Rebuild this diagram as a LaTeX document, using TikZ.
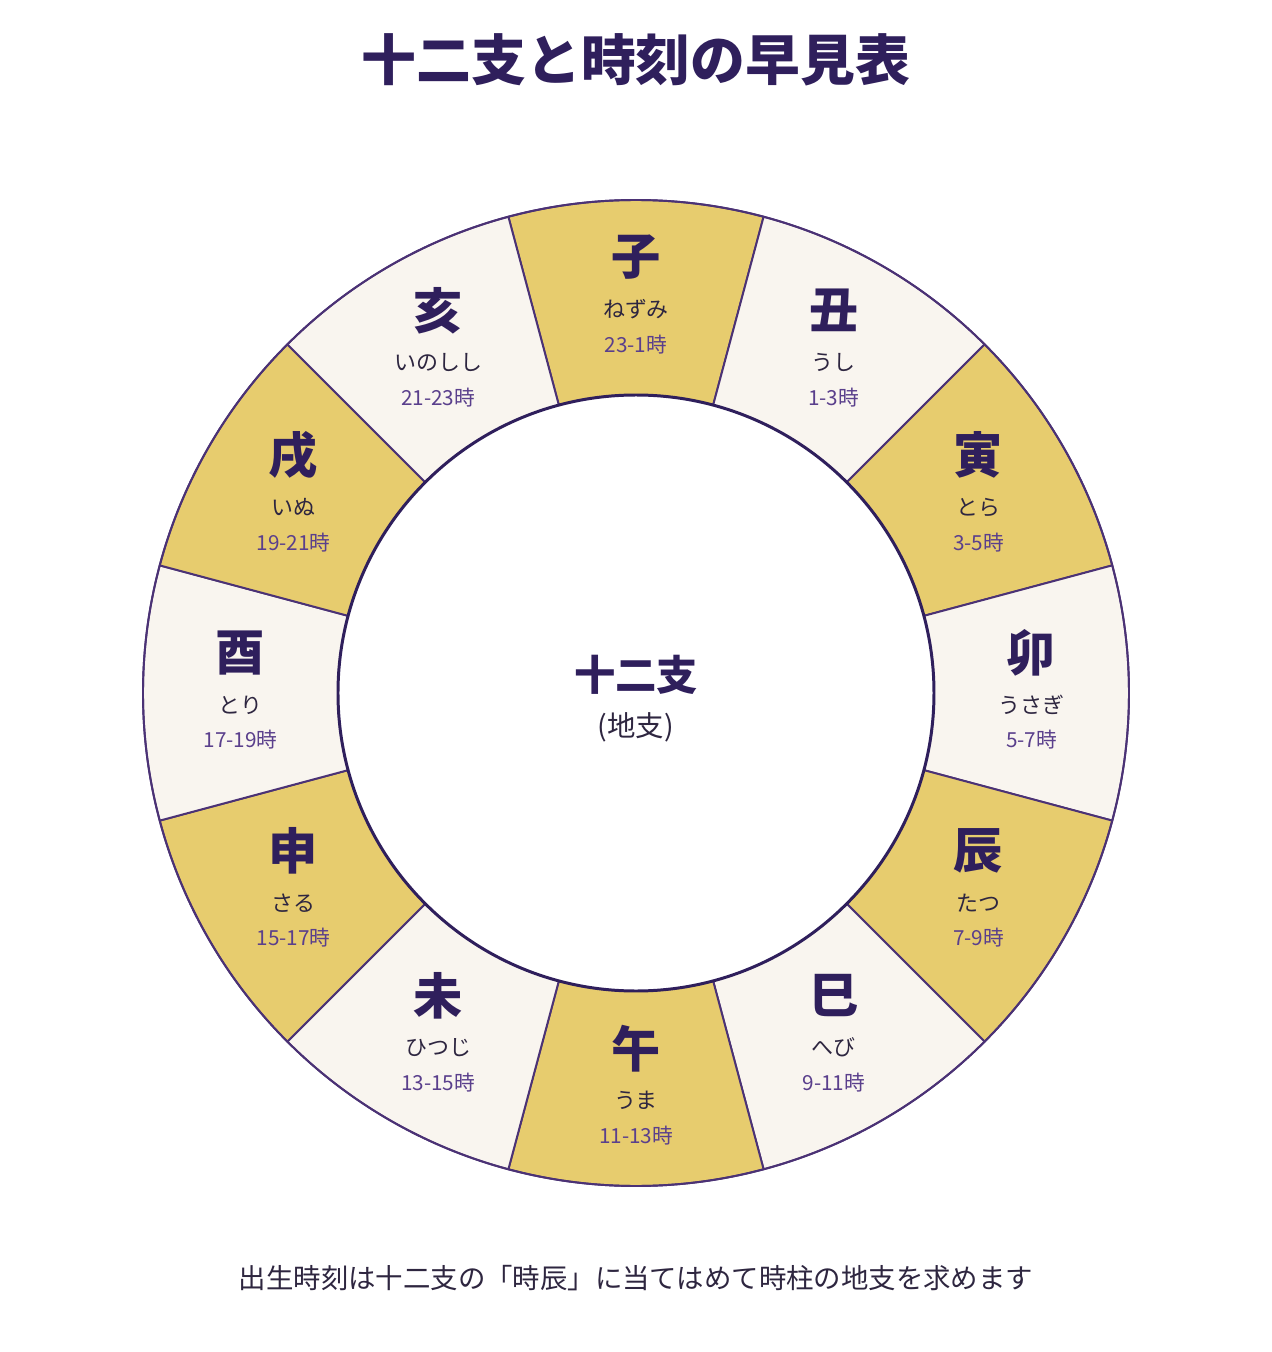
\documentclass[tikz,border=0pt]{standalone}
\usepackage{fontspec}
\setmainfont{Noto Sans CJK JP}
\usetikzlibrary{positioning}
\definecolor{wheelgold}{HTML}{E7CC6E}
\definecolor{wheelcream}{HTML}{F9F5EF}
\definecolor{wheelline}{HTML}{4B3275}
\definecolor{inkpurple}{HTML}{2F1F5C}
\definecolor{kanaink}{HTML}{2E2640}
\definecolor{hourink}{HTML}{5A3F8C}

\tikzset{
  segline/.style={draw=wheelline,line width=1.1pt,line join=round},
  titletext/.style={font=\fontsize{31.2pt}{34pt}\selectfont\bfseries,text=inkpurple,inner sep=0pt},
  kanjitext/.style={font=\fontsize{28pt}{32pt}\selectfont\bfseries,text=inkpurple,inner sep=0pt},
  kanatext/.style={font=\fontsize{12.5pt}{15pt}\selectfont,text=kanaink,inner sep=0pt},
  hourtext/.style={font=\fontsize{11.8pt}{15pt}\selectfont,text=hourink,inner sep=0pt},
  hubtext/.style={font=\fontsize{23.5pt}{27pt}\selectfont\bfseries,text=inkpurple,inner sep=0pt},
  hubsub/.style={font=\fontsize{16.2pt}{19pt}\selectfont,text=kanaink,inner sep=0pt},
  foottext/.style={font=\fontsize{15.6pt}{19pt}\selectfont,text=kanaink,inner sep=0pt}
}

\begin{document}
\begin{tikzpicture}
\useasboundingbox (-12.72,-13.18) rectangle (12.72,13.86);
\fill[white] (-12.72,-13.18) rectangle (12.72,13.86);

\node[titletext] (title) at (0,12.66) {十二支と時刻の早見表};

% ring of twelve branches, clockwise from the top
\foreach \name/\kana/\hours [count=\i from 0] in {子/ねずみ/23-1時, 丑/うし/1-3時, 寅/とら/3-5時, 卯/うさぎ/5-7時, 辰/たつ/7-9時, 巳/へび/9-11時, 午/うま/11-13時, 未/ひつじ/13-15時, 申/さる/15-17時, 酉/とり/17-19時, 戌/いぬ/19-21時, 亥/いのしし/21-23時} {
  \pgfmathsetmacro\mid{90-30*\i}
  \ifodd\i \def\segcol{wheelcream}\else \def\segcol{wheelgold}\fi
  \draw[segline,fill=\segcol] (\mid-15:5.96) -- (\mid-15:9.86)
    arc[start angle=\mid-15,end angle=\mid+15,radius=9.86]
    -- (\mid+15:5.96)
    arc[start angle=\mid+15,end angle=\mid-15,radius=5.96] -- cycle;
  \coordinate (seg\i) at (\mid:7.91);
  \node[kanjitext] (kanji\i) at ([yshift=0.80cm]seg\i) {\name};
  \node[kanatext] (kana\i) at ([yshift=-0.24cm]seg\i) {\kana};
  \node[hourtext] (hour\i) at ([yshift=-0.94cm]seg\i) {\hours};
}
\draw[wheelline,line width=1.1pt] (0,0) circle[radius=9.86];
\draw[inkpurple,line width=1.7pt,fill=white] (0,0) circle[radius=5.96];

\node[hubtext] (hub) at (0,0.36) {十二支};
\node[hubsub] (hubsub) at (0,-0.68) {(地支)};

\node[foottext] (foot) at (0,-11.70) {出生時刻は十二支の「時辰」に当てはめて時柱の地支を求めます};
\end{tikzpicture}
\end{document}
